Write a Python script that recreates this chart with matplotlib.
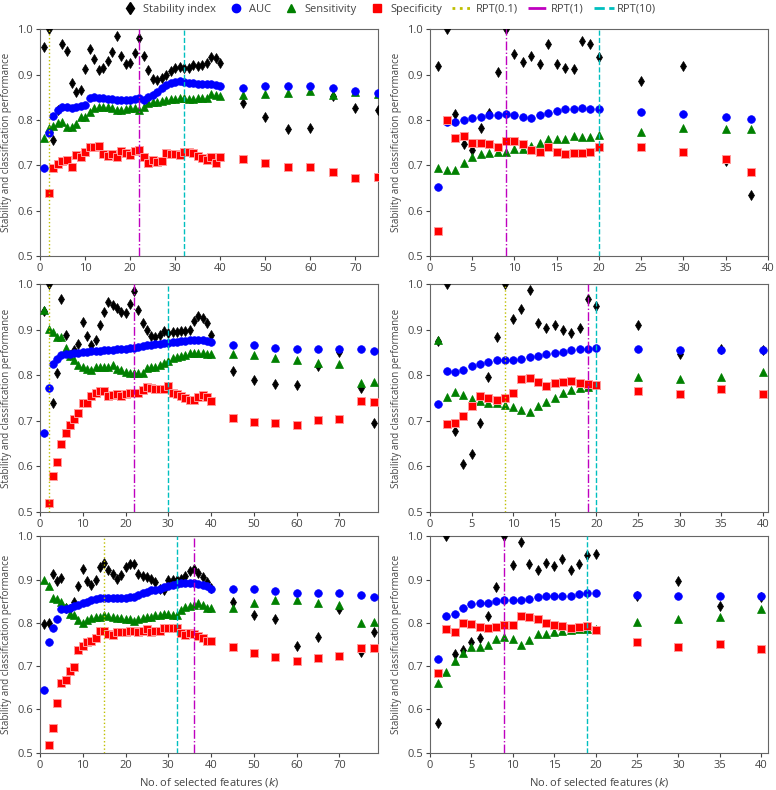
import matplotlib
matplotlib.use('Agg')
import matplotlib.pyplot as plt
import numpy as np
from matplotlib.lines import Line2D

nan = np.nan

# k values for each panel
k_a = list(range(1, 41)) + [45, 50, 55, 60, 65, 70, 75]
k_b = list(range(1, 21)) + [25, 30, 35, 38]
k_c = list(range(1, 41)) + [45, 50, 55, 60, 65, 70, 75, 78]
k_d = list(range(1, 21)) + [25, 30, 35, 40]
k_e = list(range(1, 41)) + [45, 50, 55, 60, 65, 70, 75, 78]
k_f = list(range(1, 21)) + [25, 30, 35, 40]

# panel a (top left)
stab_a = [0.960, 1.000, 0.756, 0.822, 0.968, 0.951, 0.881, 0.862, 0.866, 0.912,
          0.957, 0.935, 0.910, 0.914, 0.929, 0.949, 0.984, 0.942, 0.923, 0.925,
          0.947, 0.980, 0.941, 0.909, 0.890, 0.887, 0.892, 0.899, 0.907, 0.914,
          0.916, 0.914, 0.914, 0.921, 0.918, 0.921, 0.925, 0.938, 0.936, 0.926,
          0.837, 0.806, 0.779, 0.782, 0.853, 0.827, 0.822]
auc_a = [0.693, 0.771, 0.809, 0.821, 0.828, 0.828, 0.826, 0.828, 0.831, 0.833,
         0.849, 0.851, 0.849, 0.848, 0.846, 0.846, 0.844, 0.844, 0.844, 0.844,
         0.846, 0.849, 0.844, 0.851, 0.855, 0.862, 0.870, 0.877, 0.881, 0.883,
         0.885, 0.883, 0.881, 0.881, 0.879, 0.879, 0.879, 0.879, 0.876, 0.874,
         0.870, 0.875, 0.874, 0.874, 0.870, 0.864, 0.860]
sens_a = [0.760, 0.782, 0.787, 0.793, 0.796, 0.785, 0.784, 0.791, 0.807, 0.807,
          0.818, 0.826, 0.828, 0.828, 0.828, 0.826, 0.822, 0.822, 0.824, 0.826,
          0.826, 0.822, 0.828, 0.837, 0.839, 0.840, 0.842, 0.844, 0.846, 0.846,
          0.848, 0.848, 0.846, 0.847, 0.848, 0.848, 0.849, 0.857, 0.855, 0.853,
          0.855, 0.857, 0.860, 0.864, 0.855, 0.862, 0.857]
spec_a = [nan, 0.638, 0.693, 0.703, 0.710, 0.712, 0.697, 0.723, 0.719, 0.729,
          0.741, 0.741, 0.743, 0.724, 0.721, 0.725, 0.719, 0.732, 0.726, 0.723,
          0.732, 0.734, 0.719, 0.704, 0.712, 0.708, 0.710, 0.726, 0.725, 0.724,
          0.723, 0.730, 0.730, 0.726, 0.721, 0.717, 0.712, 0.719, 0.704, 0.718,
          0.713, 0.706, 0.697, 0.697, 0.685, 0.671, 0.675]

# panel b (top right)
stab_b = [0.920, 1.000, 0.812, 0.747, 0.734, 0.782, 0.816, 0.905, 1.000, 0.945,
          0.927, 0.941, 0.923, 0.967, 0.923, 0.915, 0.912, 0.973, 0.967, 0.938,
          0.885, 0.919, 0.710, 0.635]
auc_b = [0.651, 0.796, 0.796, 0.800, 0.805, 0.807, 0.810, 0.811, 0.813, 0.811,
         0.806, 0.804, 0.810, 0.815, 0.820, 0.824, 0.824, 0.826, 0.824, 0.824,
         0.818, 0.812, 0.806, 0.802]
sens_b = [0.693, 0.690, 0.690, 0.704, 0.718, 0.725, 0.728, 0.730, 0.730, 0.735,
          0.735, 0.743, 0.749, 0.757, 0.759, 0.759, 0.765, 0.762, 0.763, 0.767,
          0.774, 0.782, 0.779, 0.779]
spec_b = [0.554, 0.800, 0.760, 0.765, 0.750, 0.749, 0.746, 0.741, 0.754, 0.753,
          0.747, 0.734, 0.730, 0.741, 0.730, 0.724, 0.726, 0.726, 0.730, 0.740,
          0.740, 0.729, 0.713, 0.685]

# panel c (middle left)
stab_c = [0.940, 1.000, 0.739, 0.805, 0.967, 0.888, 0.845, 0.855, 0.868, 0.917,
          0.886, 0.866, 0.876, 0.910, 0.939, 0.961, 0.954, 0.947, 0.939, 0.937,
          0.955, 0.985, 0.943, 0.914, 0.900, 0.886, 0.884, 0.888, 0.897, 0.893,
          0.895, 0.895, 0.897, 0.897, 0.900, 0.919, 0.930, 0.925, 0.914, 0.888,
          0.809, 0.789, 0.780, 0.778, 0.820, 0.851, 0.772, 0.696]
auc_c = [0.673, 0.772, 0.824, 0.835, 0.844, 0.846, 0.847, 0.848, 0.849, 0.850,
         0.851, 0.852, 0.853, 0.854, 0.855, 0.855, 0.856, 0.857, 0.857, 0.858,
         0.859, 0.860, 0.862, 0.864, 0.866, 0.867, 0.868, 0.869, 0.870, 0.871,
         0.872, 0.873, 0.874, 0.875, 0.876, 0.877, 0.877, 0.876, 0.875, 0.873,
         0.867, 0.865, 0.860, 0.857, 0.857, 0.857, 0.857, 0.853]
sens_c = [0.943, 0.901, 0.895, 0.883, 0.883, 0.859, 0.842, 0.833, 0.822, 0.817,
          0.813, 0.811, 0.817, 0.818, 0.818, 0.818, 0.822, 0.813, 0.811, 0.807,
          0.805, 0.804, 0.804, 0.805, 0.815, 0.817, 0.818, 0.822, 0.826, 0.832,
          0.837, 0.840, 0.842, 0.844, 0.848, 0.848, 0.849, 0.848, 0.846, 0.846,
          0.846, 0.844, 0.837, 0.833, 0.826, 0.824, 0.783, 0.786]
spec_c = [nan, 0.520, 0.578, 0.610, 0.649, 0.672, 0.690, 0.703, 0.716, 0.738,
          0.738, 0.755, 0.760, 0.766, 0.765, 0.755, 0.756, 0.758, 0.754, 0.758,
          0.760, 0.761, 0.761, 0.767, 0.775, 0.771, 0.769, 0.769, 0.769, 0.776,
          0.760, 0.758, 0.755, 0.749, 0.745, 0.745, 0.753, 0.756, 0.751, 0.744,
          0.705, 0.698, 0.694, 0.690, 0.701, 0.703, 0.743, 0.740]

# panel d (middle right)
stab_d = [0.875, 1.000, 0.677, 0.605, 0.627, 0.694, 0.795, 0.883, 1.000, 0.922,
          0.945, 0.987, 0.914, 0.903, 0.910, 0.898, 0.892, 0.903, 0.967, 0.952,
          0.910, 0.846, 0.857, 0.855]
auc_d = [0.736, 0.809, 0.807, 0.811, 0.821, 0.824, 0.828, 0.833, 0.833, 0.833,
         0.835, 0.840, 0.842, 0.846, 0.848, 0.851, 0.855, 0.857, 0.857, 0.859,
         0.857, 0.855, 0.855, 0.855]
sens_d = [0.877, 0.753, 0.762, 0.756, 0.747, 0.744, 0.739, 0.738, 0.734, 0.731,
          0.723, 0.720, 0.732, 0.742, 0.749, 0.760, 0.767, 0.771, 0.773, 0.778,
          0.796, 0.791, 0.796, 0.806]
spec_d = [nan, 0.692, 0.694, 0.711, 0.733, 0.754, 0.750, 0.745, 0.750, 0.761,
          0.791, 0.793, 0.784, 0.776, 0.783, 0.784, 0.788, 0.783, 0.780, 0.778,
          0.765, 0.758, 0.769, 0.758]

# panel e (bottom left)
stab_e = [0.798, 0.800, 0.912, 0.896, 0.904, 0.835, 0.832, 0.848, 0.885, 0.924,
          0.897, 0.888, 0.898, 0.929, 0.938, 0.923, 0.912, 0.901, 0.910, 0.929,
          0.935, 0.937, 0.912, 0.908, 0.905, 0.901, 0.895, 0.879, 0.877, 0.898,
          0.898, 0.898, 0.901, 0.908, 0.919, 0.925, 0.915, 0.906, 0.895, 0.880,
          0.848, 0.819, 0.810, 0.747, 0.768, 0.831, 0.733, 0.779]
auc_e = [0.646, 0.756, 0.788, 0.808, 0.831, 0.833, 0.835, 0.838, 0.841, 0.845,
         0.848, 0.852, 0.855, 0.858, 0.858, 0.858, 0.858, 0.858, 0.858, 0.858,
         0.859, 0.860, 0.864, 0.868, 0.872, 0.875, 0.877, 0.879, 0.882, 0.885,
         0.887, 0.889, 0.891, 0.891, 0.891, 0.891, 0.889, 0.887, 0.885, 0.879,
         0.879, 0.878, 0.874, 0.869, 0.870, 0.868, 0.865, 0.860]
sens_e = [0.900, 0.885, 0.858, 0.855, 0.848, 0.837, 0.820, 0.818, 0.806, 0.800,
          0.806, 0.812, 0.814, 0.814, 0.819, 0.816, 0.814, 0.812, 0.812, 0.808,
          0.808, 0.805, 0.810, 0.812, 0.814, 0.814, 0.819, 0.819, 0.820, 0.820,
          0.819, 0.818, 0.829, 0.837, 0.838, 0.841, 0.845, 0.841, 0.835, 0.835,
          0.835, 0.845, 0.852, 0.852, 0.845, 0.841, 0.800, 0.802]
spec_e = [nan, 0.518, 0.558, 0.615, 0.662, 0.668, 0.689, 0.698, 0.737, 0.746,
          0.756, 0.758, 0.764, 0.781, 0.781, 0.775, 0.772, 0.778, 0.778, 0.779,
          0.781, 0.781, 0.779, 0.782, 0.785, 0.779, 0.781, 0.781, 0.787, 0.787,
          0.789, 0.788, 0.777, 0.773, 0.777, 0.775, 0.769, 0.765, 0.758, 0.758,
          0.745, 0.731, 0.722, 0.712, 0.718, 0.724, 0.743, 0.743]

# panel f (bottom right)
stab_f = [0.569, 1.000, 0.728, 0.738, 0.755, 0.765, 0.815, 0.883, 1.000, 0.934,
          0.986, 0.937, 0.921, 0.938, 0.931, 0.948, 0.923, 0.936, 0.956, 0.960,
          0.861, 0.896, 0.840, 0.860]
auc_f = [0.717, 0.815, 0.820, 0.834, 0.843, 0.846, 0.846, 0.850, 0.852, 0.852,
         0.852, 0.855, 0.859, 0.863, 0.863, 0.863, 0.863, 0.866, 0.868, 0.869,
         0.865, 0.863, 0.863, 0.861]
sens_f = [0.662, 0.686, 0.711, 0.730, 0.744, 0.745, 0.749, 0.762, 0.767, 0.762,
          0.748, 0.761, 0.775, 0.774, 0.779, 0.782, 0.784, 0.786, 0.786, 0.786,
          0.803, 0.809, 0.813, 0.832]
spec_f = [0.684, 0.786, 0.778, 0.799, 0.798, 0.790, 0.789, 0.790, 0.796, 0.794,
          0.815, 0.813, 0.809, 0.799, 0.796, 0.792, 0.788, 0.790, 0.792, 0.784,
          0.755, 0.745, 0.751, 0.739]

# RPT thresholds (None = not shown)
rpt01 = [2, None, 2, 9, 15, None]
rpt1 = [22, 9, 22, 19, 36, 9]
rpt10 = [32, 20, 30, 20, 32, 19]

panels = [
    (k_a, stab_a, auc_a, sens_a, spec_a),
    (k_b, stab_b, auc_b, sens_b, spec_b),
    (k_c, stab_c, auc_c, sens_c, spec_c),
    (k_d, stab_d, auc_d, sens_d, spec_d),
    (k_e, stab_e, auc_e, sens_e, spec_e),
    (k_f, stab_f, auc_f, sens_f, spec_f),
]
xlims = [(0, 75), (0, 40), (0, 79), (0, 40.6), (0, 79), (0, 40.8)]

plt.rcParams['font.family'] = ['Open Sans', 'DejaVu Sans']

fig = plt.figure(figsize=(7.76, 7.90), dpi=100)

# axes rectangles in figure fraction
lefts = [0.0515, 0.554]
rows = [(0.676, 0.287), (0.352, 0.2886), (0.0472, 0.274)]

grey = '#444444'
for i, (k, stab, auc, sens, spec) in enumerate(panels):
    r, c = divmod(i, 2)
    ax = fig.add_axes([lefts[c], rows[r][0], 0.4356, rows[r][1]])
    ax.plot(k, stab, 'd', color='k', ms=5.5, mew=0.5, zorder=3)
    ax.plot(k, sens, '^', color='g', ms=5.5, mew=0.5, zorder=3)
    ax.plot(k, auc, 'o', color='b', ms=5.5, mew=0.5, zorder=3)
    ax.plot(k, spec, 's', color='r', mec='#ff9a9a', ms=5.8, mew=0.7, zorder=3)
    if rpt01[i] is not None:
        ax.axvline(rpt01[i], color='y', ls=':', lw=1, zorder=4)
    ax.axvline(rpt1[i], color='m', ls='-.', lw=1, zorder=4)
    ax.axvline(rpt10[i], color='c', ls='--', lw=1, zorder=4)

    ax.set_ylim(0.5, 1.0)
    ax.set_xlim(*xlims[i])
    ax.set_yticks(np.arange(0.5, 1.01, 0.1))
    ax.set_yticklabels(['0.5', '0.6', '0.7', '0.8', '0.9', '1.0'])
    if c == 0:
        ax.set_xticks(range(0, 71, 10))
    else:
        ax.set_xticks(range(0, 41, 5))
    ax.tick_params(labelsize=8, colors=grey, length=3, pad=2)
    for s in ax.spines.values():
        s.set_color('#666666')
    ax.set_ylabel('Stability and classification performance', fontsize=7, color=grey)
    if r == 2:
        ax.set_xlabel('No. of selected features ($k$)', fontsize=8, color=grey, labelpad=4)

# legend on top
handles = [
    Line2D([], [], marker='d', color='k', ls='none', ms=6),
    Line2D([], [], marker='o', color='b', ls='none', ms=6),
    Line2D([], [], marker='^', color='g', ls='none', ms=6),
    Line2D([], [], marker='s', color='r', ls='none', ms=6),
    Line2D([], [], color='y', ls=':', lw=2),
    Line2D([], [], color='m', ls='-.', lw=2),
    Line2D([], [], color='c', ls='--', lw=2),
]
labels = ['Stability index', 'AUC', 'Sensitivity', 'Specificity',
          'RPT(0.1)', 'RPT(1)', 'RPT(10)']
fig.legend(handles, labels, loc='upper center', bbox_to_anchor=(0.5, 1.008),
           ncol=7, frameon=False, fontsize=8, handlelength=1.8,
           handletextpad=0.3, columnspacing=0.9, labelcolor=grey)

fig.savefig('out.png', dpi=100)
